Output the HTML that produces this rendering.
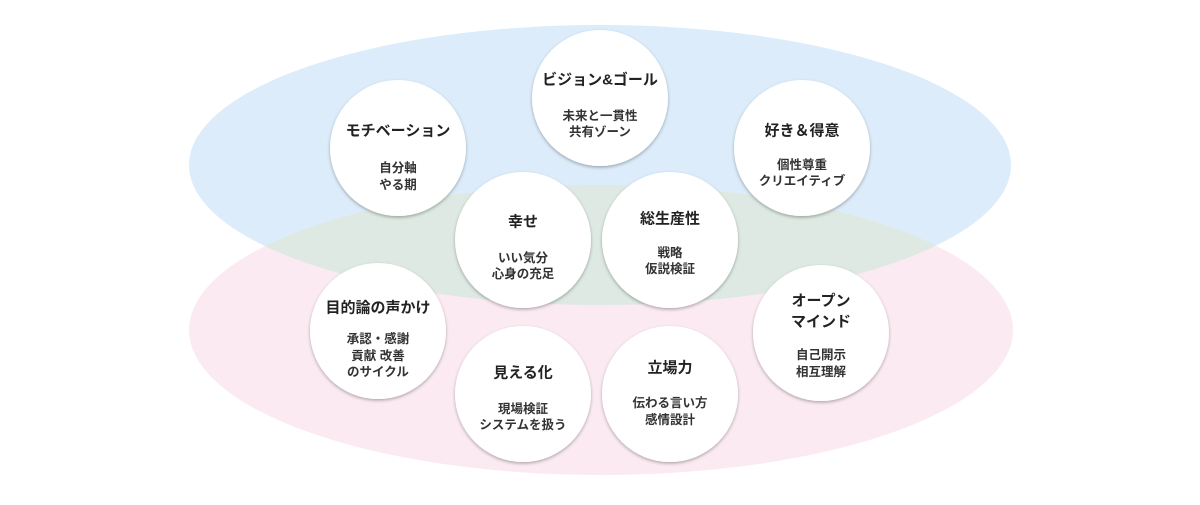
<!DOCTYPE html>
<html><head><meta charset="utf-8"><style>
html,body{margin:0;padding:0;background:#fff;}
svg text{font-family:"Liberation Sans","Noto Sans CJK JP",sans-serif;fill:#222;text-anchor:middle;dominant-baseline:central;}
.t{font-size:15px;font-weight:700;}
.s{font-size:12.5px;font-weight:700;fill:#333;}
</style></head><body>
<svg width="1200" height="500" viewBox="0 0 1200 500" xmlns="http://www.w3.org/2000/svg">
<defs>
<clipPath id="cb"><ellipse cx="600" cy="165" rx="411" ry="140"/></clipPath>
<filter id="sh" x="-20%" y="-20%" width="140%" height="140%"><feDropShadow dx="0" dy="1.5" stdDeviation="1.5" flood-color="#000" flood-opacity="0.3"/></filter>
</defs>
<ellipse cx="600" cy="165" rx="411" ry="140" fill="#dcecfa"/>
<ellipse cx="601" cy="330" rx="412" ry="145" fill="#fbeaf2"/>
<ellipse cx="601" cy="330" rx="412" ry="145" fill="#dde9e2" clip-path="url(#cb)"/>
<g fill="#fff" filter="url(#sh)">
<circle cx="600" cy="98" r="68"/>
<circle cx="398" cy="148" r="68"/>
<circle cx="802" cy="148" r="68"/>
<circle cx="523" cy="240" r="68"/>
<circle cx="670" cy="240" r="68"/>
<circle cx="378" cy="331" r="68"/>
<circle cx="821" cy="333" r="68"/>
<circle cx="523" cy="394" r="68"/>
<circle cx="670" cy="394" r="68"/>
</g>
<text class="t" x="600" y="80">ビジョン&amp;ゴール</text>
<text class="s" x="600" y="116">未来と一貫性</text>
<text class="s" x="600" y="132">共有ゾーン</text>

<text class="t" x="398" y="131">モチベーション</text>
<text class="s" x="398" y="168">自分軸</text>
<text class="s" x="398" y="185">やる期</text>

<text class="t" x="802" y="131">好き＆得意</text>
<text class="s" x="802" y="165">個性尊重</text>
<text class="s" x="802" y="181">クリエイティブ</text>

<text class="t" x="523" y="222">幸せ</text>
<text class="s" x="523" y="258">いい気分</text>
<text class="s" x="523" y="274">心身の充足</text>

<text class="t" x="670" y="219">総生産性</text>
<text class="s" x="670" y="253">戦略</text>
<text class="s" x="670" y="269">仮説検証</text>

<text class="t" x="378" y="308">目的論の声かけ</text>
<text class="s" x="378" y="339">承認・感謝</text>
<text class="s" x="378" y="356">貢献 改善</text>
<text class="s" x="378" y="372">のサイクル</text>

<text class="t" x="821" y="301">オープン</text>
<text class="t" x="821" y="322">マインド</text>
<text class="s" x="821" y="355">自己開示</text>
<text class="s" x="821" y="372">相互理解</text>

<text class="t" x="523" y="373">見える化</text>
<text class="s" x="523" y="409">現場検証</text>
<text class="s" x="523" y="425">システムを扱う</text>

<text class="t" x="670" y="368">立場力</text>
<text class="s" x="670" y="403">伝わる言い方</text>
<text class="s" x="670" y="420">感情設計</text>
</svg>
</body></html>
